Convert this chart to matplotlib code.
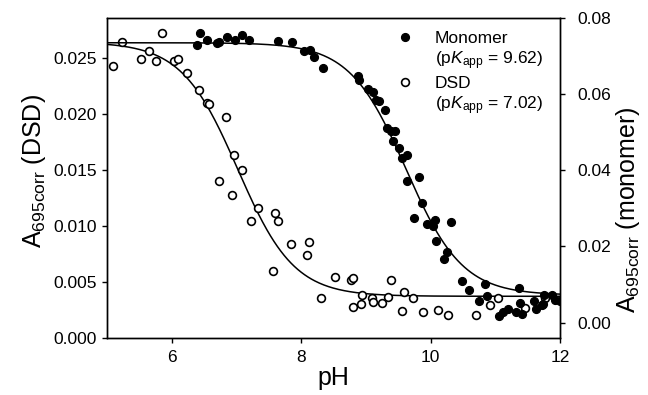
import numpy as np
import matplotlib
matplotlib.use("Agg")
import matplotlib.pyplot as plt
from matplotlib.lines import Line2D

plt.rcParams['font.family'] = ['Liberation Sans', 'DejaVu Sans']
plt.rcParams['mathtext.fontset'] = 'custom'
plt.rcParams['mathtext.rm'] = 'Liberation Sans'
plt.rcParams['mathtext.it'] = 'Liberation Sans:italic'
plt.rcParams['mathtext.bf'] = 'Liberation Sans:bold'

# ---- data ----
dsd_ph = [5.097, 5.227, 5.845, 5.525, 5.654, 5.757, 6.040, 6.093, 6.232, 6.426,
          6.541, 6.581, 6.834, 6.967, 7.082, 6.735, 6.927, 7.329, 7.225, 7.596,
          7.638, 7.570, 7.839, 8.126, 8.088, 8.302, 8.519, 8.766, 8.805, 8.799,
          8.936, 8.925, 9.095, 9.114, 9.254, 9.338, 9.386, 9.551, 9.594, 9.732,
          9.883, 10.120, 10.270, 10.699, 10.923, 11.035, 11.460, 11.769]
dsd_abs = [0.02429, 0.02640, 0.02718, 0.02488, 0.02557, 0.02468, 0.02468, 0.02488, 0.02361, 0.02212,
           0.02096, 0.02087, 0.01971, 0.01631, 0.01497, 0.01399, 0.01271, 0.01163, 0.01045, 0.01113,
           0.01045, 0.00594, 0.00841, 0.00852, 0.00743, 0.00353, 0.00545, 0.00513, 0.00533, 0.00276,
           0.00386, 0.00305, 0.00357, 0.00323, 0.00314, 0.00365, 0.00513, 0.00245, 0.00414, 0.00353,
           0.00234, 0.00254, 0.00203, 0.00203, 0.00298, 0.00353, 0.00267, 0.00359]

mono_ph = [6.433, 6.395, 6.541, 6.695, 6.731, 6.850, 6.978, 7.082, 7.194, 7.647,
           7.864, 8.049, 8.137, 8.204, 8.343, 8.884, 8.894, 9.038, 9.115, 9.152,
           9.203, 9.296, 9.322, 9.389, 9.451, 9.415, 9.512, 9.554, 9.631, 9.639,
           9.822, 9.868, 9.744, 9.945, 10.069, 10.033, 10.321, 10.081, 10.254, 10.211,
           10.481, 10.599, 10.841, 10.752, 10.868, 11.370, 11.061, 11.124, 11.194, 11.321,
           11.409, 11.383, 11.602, 11.634, 11.756, 11.742, 11.880, 11.918, 11.993, 11.718]
mono_abs = [0.07595, 0.07279, 0.07411, 0.07342, 0.07368, 0.07508, 0.07421, 0.07553, 0.07411, 0.07395,
            0.07376, 0.07132, 0.07158, 0.06974, 0.06684, 0.06474, 0.06384, 0.06147, 0.06061, 0.05858,
            0.05816, 0.05595, 0.05113, 0.05042, 0.05026, 0.04763, 0.04587, 0.04324, 0.04411, 0.03726,
            0.03818, 0.03139, 0.02758, 0.02582, 0.02684, 0.02526, 0.02632, 0.02147, 0.01845, 0.01666,
            0.01092, 0.00845, 0.01026, 0.00574, 0.00697, 0.00908, 0.00179, 0.00289, 0.00368, 0.00271,
            0.00232, 0.00516, 0.00574, 0.00345, 0.00718, 0.00500, 0.00726, 0.00587, 0.00574, 0.00474]

# fit parameters (pKa, top, bottom)
dsd_fit = (7.02, 0.0264, 0.00372)
mono_fit = (9.62, 0.0735, 0.0072)

xticks = [6, 8, 10, 12]
left_ticks = [0.000, 0.005, 0.010, 0.015, 0.020, 0.025]
right_ticks = [0.00, 0.02, 0.04, 0.06, 0.08]


def titration(ph, pka, top, bottom):
    return bottom + (top - bottom) / (1.0 + 10 ** (np.asarray(ph) - pka))


fig = plt.figure(figsize=(6.48, 3.95), dpi=100)
ax = fig.add_axes([107 / 648, 57 / 395, 453 / 648, 320 / 395])
ax2 = ax.twinx()

ph_line = np.linspace(5, 12, 400)
lw_curve = 1.1
ms = 5.6
ax.plot(ph_line, titration(ph_line, *dsd_fit), color='black', lw=lw_curve, zorder=2)
ax.plot(dsd_ph, dsd_abs, 'o', ms=ms, mfc='white', mec='black', mew=1.2, zorder=3)
ax2.plot(ph_line, titration(ph_line, *mono_fit), color='black', lw=lw_curve, zorder=2)
ax2.plot(mono_ph, mono_abs, 'o', ms=ms, mfc='black', mec='black', mew=1.0, zorder=3)

ax.set_xlim(5, 12)
ax.set_ylim(0, 0.02854)
ax2.set_ylim(-0.00405, 0.08)
ax.set_xticks(xticks)
ax.set_xticklabels([str(t) for t in xticks])
ax.set_yticks(left_ticks)
ax.set_yticklabels([f"{t:.3f}" for t in left_ticks])
ax2.set_yticks(right_ticks)
ax2.set_yticklabels([f"{t:.2f}" for t in right_ticks])

for a in (ax, ax2):
    for s in a.spines.values():
        s.set_linewidth(1.0)
tick_fs = 12.5
ax.tick_params(axis='both', direction='out', length=3.6, width=1.0, labelsize=tick_fs)
ax.tick_params(axis='x', pad=5)
ax.tick_params(axis='y', pad=3.5)
ax2.tick_params(axis='y', direction='out', length=3.6, width=1.0, labelsize=tick_fs, pad=9)

label_fs = 18
ax.set_xlabel('pH', fontsize=label_fs, labelpad=1)
ax.set_ylabel(r'A$_{\mathrm{695corr}}$ (DSD)', fontsize=label_fs)
ax.yaxis.set_label_coords(-0.130, 0.522)
ax2.set_ylabel(r'A$_{\mathrm{695corr}}$ (monomer)', fontsize=label_fs)
ax2.yaxis.set_label_coords(1.120, 0.40)

handles = [Line2D([], [], ls='none', marker='o', ms=ms, mfc='black', mec='black'),
           Line2D([], [], ls='none'),
           Line2D([], [], ls='none', marker='o', ms=ms, mfc='white', mec='black', mew=1.2),
           Line2D([], [], ls='none')]
labels = ['Monomer', r'(p$\mathit{K}_{\mathrm{app}}$ = 9.62)', 'DSD', r'(p$\mathit{K}_{\mathrm{app}}$ = 7.02)']
ax2.legend(handles, labels, loc='upper left', bbox_to_anchor=(0.6395, 0.960), frameon=False,
           fontsize=12.5, handlelength=1.0, handletextpad=1.2, borderpad=0, borderaxespad=0,
           labelspacing=0.2)

fig.savefig('out.png', dpi=100, facecolor='white')
